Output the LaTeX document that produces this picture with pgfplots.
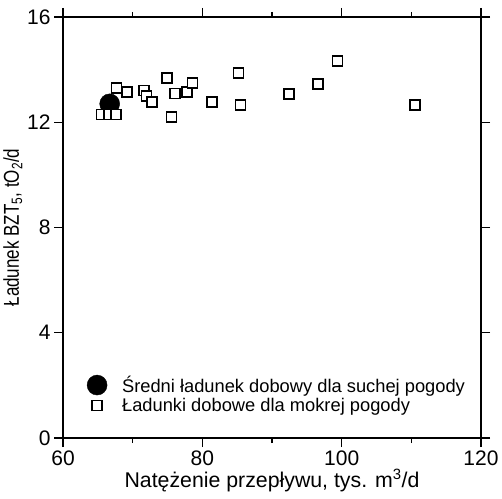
\documentclass[border=0pt]{standalone}
\usepackage{fontspec}
\setmainfont{Liberation Sans}
\newfontfamily\narrowY{Liberation Sans}[FakeStretch=0.79]
\usepackage{pgfplots}
\pgfplotsset{compat=1.18}
\begin{document}
\begin{tikzpicture}
\begin{axis}[
  scale only axis,
  width=418bp, height=421bp,
  xmin=60, xmax=120, ymin=0, ymax=16,
  xtick={60,80,100,120}, ytick={0,4,8,12,16},
  minor xtick={70,90,110},
  tick align=outside,
  major tick length=9bp, minor tick length=5bp,
  tick style={black, line width=1.2bp},
  axis line style={line width=1.4bp},
  /pgf/number format/assume math mode=true,
  tick label style={font=\fontsize{21bp}{24bp}\selectfont},
  xlabel={Natężenie przepływu, tys. m\textsuperscript{3}/d},
  ylabel={Ładunek BZT\textsubscript{5}, tO\textsubscript{2}/d},
  xlabel style={font=\fontsize{21.3bp}{24bp}\selectfont, yshift=3bp},
  ylabel style={font=\narrowY\fontsize{21.5bp}{24bp}\selectfont, yshift=-2bp},
  legend style={draw=none, fill=none, font=\fontsize{18.3bp}{22bp}\selectfont,
    at={(0.05,0.05)}, anchor=south west, row sep=0bp, column sep=13bp},
  legend cell align=left,
]
\addplot[only marks, mark=*, mark size=10bp, black] coordinates {(66.7,12.7)};
\addlegendentry{Średni ładunek dobowy dla suchej pogody}
\addplot[only marks, mark=square*, mark size=5bp, mark options={fill=white, draw=black, line width=1.6bp}] coordinates {
(65.5,12.3)(66.6,12.3)(67.6,12.3)
(67.7,13.3)(69.2,13.15)(71.6,13.2)(72.0,13.0)(72.8,12.78)
(74.9,13.69)(76.1,13.1)(77.8,13.16)(78.6,13.5)(75.6,12.2)
(81.4,12.78)(85.2,13.88)(85.5,12.66)(92.4,13.08)(96.6,13.46)
(99.4,14.33)(110.5,12.66)
};
\addlegendentry{Ładunki dobowe dla mokrej pogody}
\end{axis}
\path ([shift={(-63bp,-61bp)}]current axis.south west) rectangle ([shift={(21bp,17bp)}]current axis.north east);
\end{tikzpicture}
\end{document}
